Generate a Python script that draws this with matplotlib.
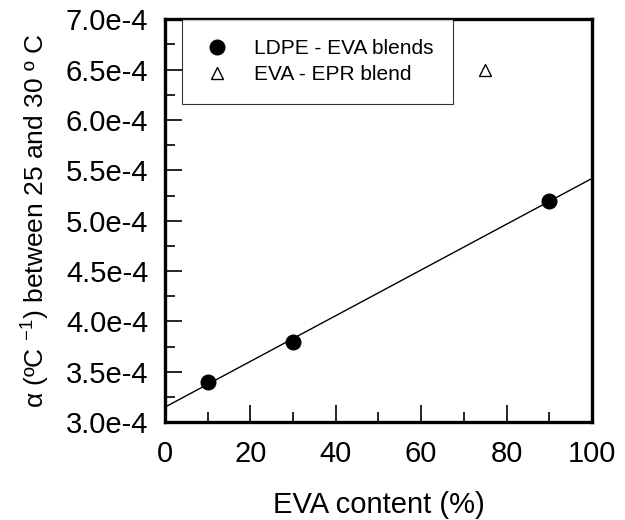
import numpy as np
import matplotlib
matplotlib.use("Agg")
import matplotlib.pyplot as plt
from matplotlib.ticker import FixedLocator, FixedFormatter, MultipleLocator

plt.rcParams['font.family'] = ['Liberation Sans', 'DejaVu Sans']
plt.rcParams['mathtext.fontset'] = 'custom'
plt.rcParams['mathtext.rm'] = 'Liberation Sans'
plt.rcParams['mathtext.it'] = 'Liberation Sans'

# LDPE - EVA blends
eva_content = [10, 30, 90]
alpha_ldpe_eva = [3.4e-4, 3.8e-4, 5.2e-4]
# EVA - EPR blend
eva_epr_content = [75]
alpha_eva_epr = [6.5e-4]

x_ticks = [0, 20, 40, 60, 80, 100]
y_ticks = [3.0e-4, 3.5e-4, 4.0e-4, 4.5e-4, 5.0e-4, 5.5e-4, 6.0e-4, 6.5e-4, 7.0e-4]
y_tick_labels = ["3.0e-4", "3.5e-4", "4.0e-4", "4.5e-4", "5.0e-4",
                 "5.5e-4", "6.0e-4", "6.5e-4", "7.0e-4"]

fig = plt.figure(figsize=(6.25, 5.2), dpi=100)
ax = fig.add_axes([0.264, 0.188, 0.683, 0.775])

# least-squares line through the LDPE - EVA points
slope, intercept = np.polyfit(eva_content, alpha_ldpe_eva, 1)
xf = np.array([0, 100])
ax.plot(xf, slope * xf + intercept, color='black', lw=1.0, zorder=2)

ax.plot(eva_content, alpha_ldpe_eva, 'o', color='black', ms=10.5,
        label='LDPE - EVA blends', zorder=3)
ax.plot(eva_epr_content, alpha_eva_epr, '^', mfc='white', mec='black',
        mew=1.0, ms=8, label='EVA - EPR blend', zorder=3)

ax.set_xlim(0, 100)
ax.set_ylim(3.0e-4, 7.0e-4)
ax.xaxis.set_major_locator(FixedLocator(x_ticks))
ax.xaxis.set_minor_locator(MultipleLocator(10))
ax.yaxis.set_major_locator(FixedLocator(y_ticks))
ax.yaxis.set_major_formatter(FixedFormatter(y_tick_labels))
ax.yaxis.set_minor_locator(MultipleLocator(0.25e-4))

ax.tick_params(which='both', direction='in', width=1.2, labelsize=21, pad=12)
ax.tick_params(which='major', length=12)
ax.tick_params(which='minor', length=7)
ax.tick_params(axis='x', pad=13)

for s in ax.spines.values():
    s.set_linewidth(2.4)

ax.set_xlabel('EVA content (%)', fontsize=21, labelpad=16)
ax.set_ylabel('α (ºC $^{-1}$) between 25 and 30 º C', fontsize=19, labelpad=10)

leg = ax.legend(loc='upper left', bbox_to_anchor=(0.04, 1.0), borderaxespad=0,
                fontsize=15, frameon=True, fancybox=False, edgecolor='black',
                handletextpad=1.0, borderpad=0.95, labelspacing=0.35,
                handlelength=1.5)
leg.get_frame().set_linewidth(0.8)

fig.savefig('out.png', dpi=100)
